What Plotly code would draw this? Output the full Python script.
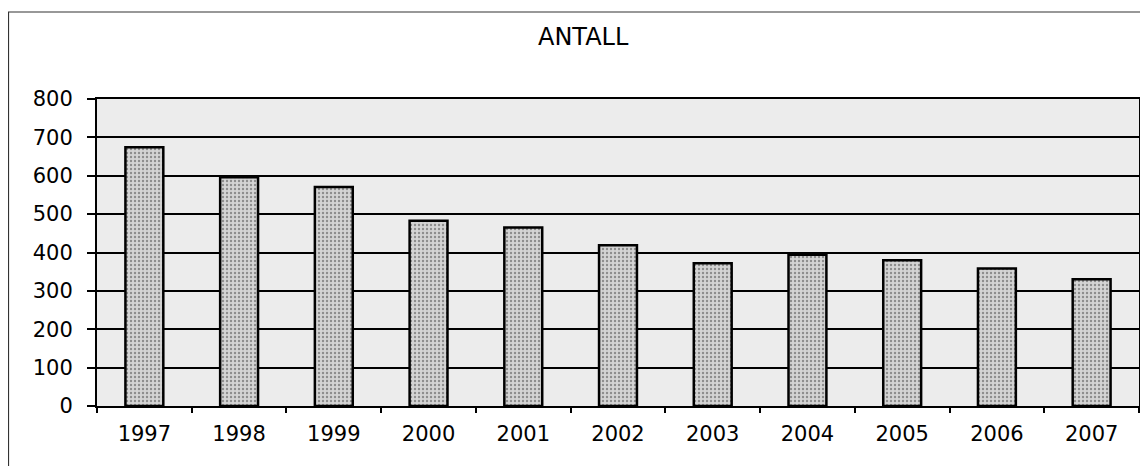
import plotly.graph_objects as go

years = ["1997", "1998", "1999", "2000", "2001", "2002", "2003", "2004", "2005", "2006", "2007"]
antall = [674, 596, 571, 483, 465, 419, 372, 394, 380, 358, 330]
y_ticks = [0, 100, 200, 300, 400, 500, 600, 700, 800]
title_text = "ANTALL"

# page body has an 8px margin; figure sized to fit the window
OFF = 8
W, H = 1148 - OFF, 466 - OFF
L, T = 97 - OFF, 99 - OFF
R = W - (1139 - OFF)
B = H - (406 - OFF)
pw, ph = W - L - R, H - T - B

def px_x(px):
    return (px - OFF - L) / pw

def px_y(py):
    return (H - B - (py - OFF)) / ph

fig = go.Figure()
fig.add_trace(go.Bar(
    x=years, y=antall, width=0.40,
    marker=dict(
        color="#d2d2d2",
        line=dict(color="black", width=2.5),
        pattern=dict(shape=".", fgcolor="#444444", bgcolor="#d4d4d4", size=4, solidity=0.28),
    ),
))

fig.update_layout(
    width=W, height=H,
    margin=dict(l=L, r=R, t=T, b=B, autoexpand=False),
    paper_bgcolor="white",
    plot_bgcolor="#ececec",
    showlegend=False,
    font=dict(family="DejaVu Sans", size=21, color="black"),
    annotations=[dict(
        text=title_text, xref="paper", yref="paper",
        x=px_x(583), y=px_y(37), xanchor="center", yanchor="middle",
        showarrow=False, font=dict(family="DejaVu Sans", size=24, color="black"),
    )],
    shapes=[dict(
        type="rect", xref="paper", yref="paper",
        x0=px_x(8.5), y0=px_y(490), x1=px_x(1170), y1=px_y(12),
        line=dict(color="#333333", width=1.2),
        layer="below",
    )],
)

fig.update_xaxes(
    type="category",
    showline=True, linecolor="black", linewidth=2, mirror=True,
    ticks="outside", tickson="boundaries", ticklen=5, tickcolor="black", tickwidth=1.5,
    showgrid=False,
    ticklabelstandoff=8,
)
fig.update_yaxes(
    range=[0, 800], tickvals=y_ticks,
    showline=True, linecolor="black", linewidth=2, mirror=True,
    ticks="outside", ticklen=8, tickcolor="black", tickwidth=1.5,
    showgrid=True, gridcolor="black", gridwidth=2,
    zeroline=False,
    ticklabelstandoff=10,
)

fig.write_html("out.html")
